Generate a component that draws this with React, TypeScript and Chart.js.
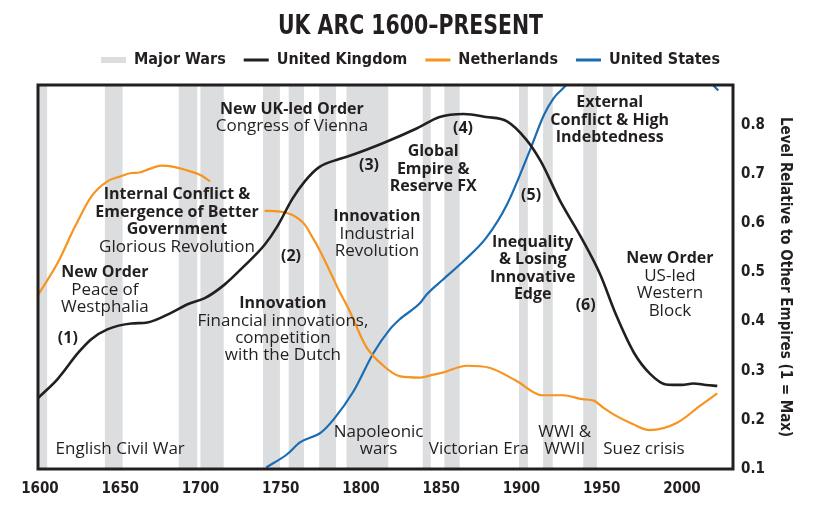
import React, { useEffect, useRef } from "react";
import { Chart, registerables } from "chart.js";

Chart.register(...registerables);

// ---------- data ----------
const chartTitle = "UK ARC 1600–PRESENT";
const yAxisTitle = "Level Relative to Other Empires (1 = Max)";
const warLabel = "Major Wars";
const seriesNames = ["United Kingdom", "Netherlands", "United States"];

const ukYears = [1599, 1611, 1624, 1632, 1642, 1657, 1667, 1682, 1692, 1703, 1715, 1727, 1740, 1748, 1757, 1765, 1774, 1786, 1793, 1814, 1835, 1849, 1864, 1878, 1891, 1903, 1912, 1924, 1937, 1949, 1959, 1970, 1980, 1990, 2000, 2007, 2015, 2022];
const ukValues = [0.245, 0.283, 0.337, 0.364, 0.384, 0.396, 0.398, 0.418, 0.435, 0.448, 0.475, 0.512, 0.556, 0.594, 0.648, 0.685, 0.714, 0.73, 0.737, 0.763, 0.793, 0.816, 0.822, 0.816, 0.807, 0.77, 0.726, 0.646, 0.572, 0.496, 0.413, 0.337, 0.294, 0.272, 0.271, 0.274, 0.271, 0.269];

const nlYears = [1599, 1611, 1622, 1632, 1642, 1650, 1657, 1662, 1668, 1676, 1684, 1690, 1700, 1706, 1723, 1740, 1748, 1757, 1765, 1770, 1773, 1782, 1786, 1793, 1803, 1814, 1824, 1837, 1845, 1851, 1866, 1880, 1897, 1913, 1926, 1938, 1945, 1951, 1959, 1969, 1980, 1997, 2011, 2022];
const nlValues = [0.455, 0.519, 0.594, 0.654, 0.685, 0.695, 0.702, 0.703, 0.71, 0.717, 0.714, 0.709, 0.698, 0.685, null, 0.625, 0.624, 0.617, 0.597, 0.57, 0.553, 0.493, 0.465, 0.421, 0.35, 0.31, 0.289, 0.286, 0.292, 0.296, 0.31, 0.306, 0.279, 0.25, 0.25, 0.242, 0.239, 0.225, 0.208, 0.192, 0.179, 0.194, 0.228, 0.254];

const usYears = [1741, 1754, 1762, 1775, 1783, 1795, 1808, 1818, 1824, 1837, 1841, 1851, 1864, 1878, 1891, 1905, 1914, 1920, 1927, 1935, 1950, 1975, 2000, 2012, 2016, 2019.5, 2022.6];
const usValues = [0.103, 0.13, 0.154, 0.174, 0.201, 0.256, 0.337, 0.384, 0.404, 0.438, 0.455, 0.485, 0.523, 0.57, 0.638, 0.746, 0.82, 0.854, 0.878, 0.91, 0.95, 0.97, 0.96, 0.92, 0.9, 0.881, 0.87];

const warStarts = [1597, 1640.5, 1686.5, 1700, 1739, 1755, 1774, 1791, 1838.5, 1852, 1898.5, 1913.5, 1938.5];
const warEnds = [1604.5, 1651.5, 1698, 1714.5, 1749.5, 1764.5, 1784.5, 1817, 1843.5, 1861.5, 1904, 1919.5, 1947];

const xTickValues = [1600, 1650, 1700, 1750, 1800, 1850, 1900, 1950, 2000];
const yTickValues = [0.1, 0.2, 0.3, 0.4, 0.5, 0.6, 0.7, 0.8];

// annotation texts: [text, bold]
const annotations: { year: number; value: number; lines: [string, boolean][] }[] = [
  { year: 1757, value: 0.832, lines: [["New UK-led Order", true], ["Congress of Vienna", false]] },
  { year: 1805, value: 0.717, lines: [["(3)", true]] },
  { year: 1685.4, value: 0.658, lines: [["Internal Conflict &", true], ["Emergence of Better", true], ["Government", true], ["Glorious Revolution", false]] },
  { year: 1756.4, value: 0.532, lines: [["(2)", true]] },
  { year: 1810, value: 0.613, lines: [["Innovation", true], ["Industrial", false], ["Revolution", false]] },
  { year: 1640.5, value: 0.5, lines: [["New Order", true], ["Peace of", false], ["Westphalia", false]] },
  { year: 1617.4, value: 0.366, lines: [["(1)", true]] },
  { year: 1751.4, value: 0.437, lines: [["Innovation", true], ["Financial innovations,", false], ["competition", false], ["with the Dutch", false]] },
  { year: 1650, value: 0.141, lines: [["English Civil War", false]] },
  { year: 1811, value: 0.175, lines: [["Napoleonic", false], ["wars", false]] },
  { year: 1873.5, value: 0.141, lines: [["Victorian Era", false]] },
  { year: 1927, value: 0.175, lines: [["WWI &", false], ["WWII", false]] },
  { year: 1976.3, value: 0.141, lines: [["Suez crisis", false]] },
  { year: 1863.6, value: 0.792, lines: [["(4)", true]] },
  { year: 1845, value: 0.745, lines: [["Global", true], ["Empire &", true], ["Reserve FX", true]] },
  { year: 1906, value: 0.656, lines: [["(5)", true]] },
  { year: 1907, value: 0.561, lines: [["Inequality", true], ["& Losing", true], ["Innovative", true], ["Edge", true]] },
  { year: 1940, value: 0.433, lines: [["(6)", true]] },
  { year: 1955, value: 0.845, lines: [["External", true], ["Conflict & High", true], ["Indebtedness", true]] },
  { year: 1992.5, value: 0.528, lines: [["New Order", true], ["US-led", false], ["Western", false], ["Block", false]] },
];

// ---------- styles ----------
const INK = "#231f20";
const WAR_GRAY = "#dcdddf";
const seriesColors = ["#231f20", "#f7941d", "#1b6db3"];
const COND = "'DejaVu Sans Condensed', 'DejaVu Sans', sans-serif";
const ANN = "'Open Sans', sans-serif";

const toPoints = (xs: number[], ys: (number | null)[]) => xs.map((x, i) => ({ x, y: ys[i] }));

const warBandsPlugin = {
  id: "warBands",
  beforeDatasetsDraw(chart: any) {
    const { ctx, chartArea, scales } = chart;
    ctx.save();
    ctx.beginPath();
    ctx.rect(chartArea.left, chartArea.top, chartArea.right - chartArea.left, chartArea.bottom - chartArea.top);
    ctx.clip();
    ctx.fillStyle = WAR_GRAY;
    warStarts.forEach((s, i) => {
      const x1 = scales.x.getPixelForValue(s);
      const x2 = scales.x.getPixelForValue(warEnds[i]);
      ctx.fillRect(x1, chartArea.top, x2 - x1, chartArea.bottom - chartArea.top);
    });
    ctx.restore();
  },
};

const annotationPlugin = {
  id: "annotations",
  afterDatasetsDraw(chart: any) {
    const { ctx, scales, chartArea } = chart;
    ctx.save();
    ctx.fillStyle = INK;
    ctx.textAlign = "center";
    ctx.textBaseline = "middle";
    annotations.forEach((a) => {
      const x = scales.x.getPixelForValue(a.year);
      const y0 = scales.y.getPixelForValue(a.value);
      a.lines.forEach(([t, bold], i) => {
        ctx.font = bold ? `bold 16px ${ANN}` : `17px ${ANN}`;
        ctx.fillText(t, x, y0 + i * 17.4);
      });
    });
    // frame
    ctx.strokeStyle = INK;
    ctx.lineWidth = 3;
    ctx.strokeRect(chartArea.left, chartArea.top, chartArea.right - chartArea.left, chartArea.bottom - chartArea.top);
    ctx.restore();
  },
};

const headerPlugin = {
  id: "header",
  afterDraw(chart: any) {
    const { ctx } = chart;
    ctx.save();
    ctx.fillStyle = INK;
    ctx.textAlign = "center";
    ctx.textBaseline = "middle";
    // tall, narrow title
    ctx.save();
    ctx.translate(410.5, 27);
    ctx.scale(0.875, 1);
    ctx.font = `bold 26px ${COND}`;
    ctx.fillText(chartTitle, 0, 0);
    ctx.restore();

    // legend
    const items = [
      { label: warLabel, color: WAR_GRAY, h: 6 },
      ...seriesNames.map((n, i) => ({ label: n, color: seriesColors[i], h: 3 })),
    ];
    ctx.font = `bold 16px ${COND}`;
    const box = 25, gapIn = 8, gapOut = 18;
    const widths = items.map((it) => ctx.measureText(it.label).width);
    const total = widths.reduce((s, w) => s + box + gapIn + w, 0) + gapOut * (items.length - 1);
    let x = 410.5 - total / 2;
    const cy = 60;
    ctx.textAlign = "left";
    items.forEach((it, i) => {
      ctx.fillStyle = it.color;
      ctx.fillRect(x, cy - it.h / 2, box, it.h);
      ctx.fillStyle = INK;
      ctx.fillText(it.label, x + box + gapIn, cy);
      x += box + gapIn + widths[i] + gapOut;
    });
    ctx.restore();
  },
};

export default function App() {
  const ref = useRef<HTMLCanvasElement | null>(null);
  useEffect(() => {
    if (!ref.current) return;
    const chart = new Chart(ref.current, {
      type: "line",
      data: {
        datasets: [
          {
            label: seriesNames[0],
            data: toPoints(ukYears, ukValues),
            borderColor: seriesColors[0],
            borderWidth: 2.6,
            pointRadius: 0,
            cubicInterpolationMode: "monotone",
          },
          {
            label: seriesNames[1],
            data: toPoints(nlYears, nlValues),
            borderColor: seriesColors[1],
            borderWidth: 2.2,
            pointRadius: 0,
            spanGaps: false,
            cubicInterpolationMode: "monotone",
          },
          {
            label: seriesNames[2],
            data: toPoints(usYears, usValues),
            borderColor: seriesColors[2],
            borderWidth: 2.2,
            pointRadius: 0,
            cubicInterpolationMode: "monotone",
          },
        ] as any,
      },
      options: {
        responsive: false,
        animation: false,
        events: [],
        layout: { padding: { left: 38, top: 85, right: 0, bottom: 0 } },
        plugins: {
          legend: { display: false },
          title: { display: false },
          tooltip: { enabled: false },
        },
        scales: {
          x: {
            type: "linear",
            position: "bottom",
            min: 1598.8,
            max: 2031.8,
            grid: { display: false, drawTicks: false },
            border: { display: false },
            afterBuildTicks: (axis: any) => {
              axis.ticks = xTickValues.map((v) => ({ value: v }));
            },
            afterFit: (scale: any) => {
              scale.height = 53;
            },
            ticks: {
              padding: 11,
              maxRotation: 0,
              autoSkip: false,
              color: INK,
              font: { family: COND, size: 15, weight: "bold" },
              callback: (v: any) => String(v),
            },
          },
          y: {
            type: "linear",
            position: "right",
            min: 0.1,
            max: 0.881,
            grid: { display: false, drawTicks: false },
            border: { display: false },
            afterBuildTicks: (axis: any) => {
              axis.ticks = yTickValues.map((v) => ({ value: v }));
            },
            afterFit: (scale: any) => {
              scale.width = 107;
            },
            ticks: {
              padding: 8,
              color: INK,
              font: { family: COND, size: 15, weight: "bold" },
              callback: (v: any) => Number(v).toFixed(1),
            },
            title: {
              display: true,
              text: yAxisTitle,
              color: INK,
              font: { family: COND, size: 15, weight: "bold" },
              padding: { top: 46, bottom: 0 },
            },
          },
        },
      } as any,
      plugins: [warBandsPlugin, annotationPlugin, headerPlugin],
    });
    return () => chart.destroy();
  }, []);

  return (
    <div style={{ position: "absolute", left: 0, top: 0, width: 840, height: 522, background: "#fff" }}>
      <canvas ref={ref} width={840} height={522} style={{ display: "block" }} />
    </div>
  );
}
